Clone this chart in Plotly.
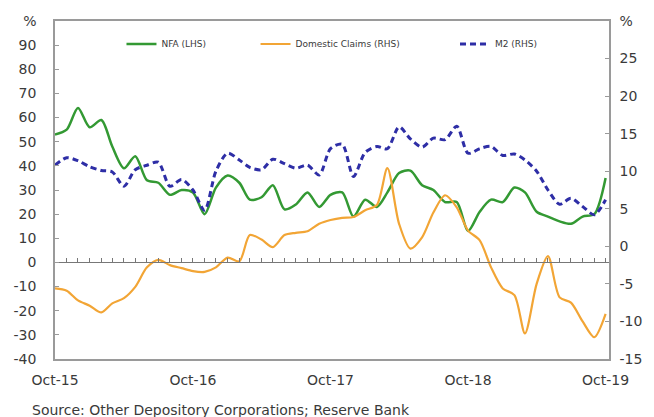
import pandas as pd
import plotly.graph_objects as go

dates = pd.date_range("2015-10-01", "2019-10-01", freq="MS")

nfa = [53, 55, 64, 56, 59, 48, 39, 44, 34, 33, 28, 30, 29,
       20, 31, 36, 33, 26, 27, 32, 22, 24, 29, 23, 28,
       29, 19, 26, 23, 29, 37, 38, 32, 30, 25, 25, 13,
       21, 26, 25, 31, 29, 21, 19, 17, 16, 19, 20, 35]

domestic_claims = [-5.6, -5.9, -7.2, -7.9, -8.8, -7.6, -6.9, -5.4, -2.8, -1.8, -2.5, -2.9, -3.3,
                   -3.4, -2.8, -1.5, -2.0, 1.5, 0.9, -0.1, 1.5, 1.8, 2.0, 3.0, 3.5,
                   3.8, 3.9, 4.8, 5.5, 10.4, 3.0, -0.3, 1.2, 4.5, 6.8, 5.2, 2.1,
                   0.8, -2.8, -5.6, -6.5, -11.6, -5.0, -1.3, -6.8, -7.5, -10.0, -12.1, -9.0]

m2 = [10.8, 11.8, 11.4, 10.6, 10.1, 9.9, 8.0, 10.2, 10.8, 11.2, 8.0, 8.9, 7.5,
      4.8, 10.0, 12.4, 11.5, 10.5, 10.2, 11.6, 11.0, 10.4, 10.8, 9.5, 13.0,
      13.6, 9.3, 12.5, 13.3, 13.0, 15.9, 14.3, 13.2, 14.4, 14.2, 16.0, 12.4,
      13.0, 13.3, 12.1, 12.3, 11.5, 10.0, 7.5, 5.6, 6.4, 5.3, 4.2, 6.2]

left_ticks = [-40, -30, -20, -10, 0, 10, 20, 30, 40, 50, 60, 70, 80, 90, 100]
left_text = [str(v) for v in left_ticks[:-1]] + ["%"]
right_ticks = [-15, -10, -5, 0, 5, 10, 15, 20, 25, 30]
right_text = [str(v) for v in right_ticks[:-1]] + ["%"]
x_ticks = pd.date_range("2015-10-01", "2019-10-01", freq="12MS")

FONT = "DejaVu Sans"
AX = "#9a9a9a"
TXT = "#3a3a3a"
x_range = ["2015-10-01", "2019-10-10"]

fig = go.Figure()
fig.add_trace(go.Scatter(x=dates, y=nfa, name="NFA (LHS)", mode="lines",
                         line=dict(color="#339933", width=2.5, shape="spline", smoothing=0.8),
                         yaxis="y", legend="legend"))
fig.add_trace(go.Scatter(x=dates, y=domestic_claims, name="Domestic Claims (RHS)", mode="lines",
                         line=dict(color="#f2a535", width=2.2, shape="spline", smoothing=0.8),
                         yaxis="y2", legend="legend2"))
fig.add_trace(go.Scatter(x=dates, y=m2, name="M2 (RHS)", mode="lines",
                         line=dict(color="#2e2ea6", width=3, dash="6px,4px", shape="spline", smoothing=0.8),
                         yaxis="y2", legend="legend3"))

leg = dict(orientation="h", yanchor="middle", xanchor="left", y=0.932,
           bgcolor="rgba(0,0,0,0)", font=dict(family=FONT, size=9, color=TXT), itemwidth=30)

fig.update_layout(
    width=654, height=417,
    margin=dict(l=55, r=43, t=21, b=58),
    paper_bgcolor="white", plot_bgcolor="white",
    font=dict(family=FONT, size=14, color=TXT),
    xaxis=dict(range=x_range, type="date", tickvals=x_ticks, tickformat="%b-%y",
               showgrid=False, showline=True, linecolor=AX, linewidth=1.5, mirror=True,
               ticks="", ticklabelstandoff=7, zeroline=False),
    xaxis2=dict(range=x_range, type="date", overlaying="x", anchor="free",
                position=40 / 140, side="bottom", showline=True, linecolor="#777777",
                linewidth=1, ticks="inside", ticklen=4, tickcolor="#777777",
                dtick="M1", tick0="2015-10-01", showticklabels=False, showgrid=False),
    yaxis=dict(range=[-40, 100], tickvals=left_ticks, ticktext=left_text,
               showgrid=False, zeroline=False, showline=True, linecolor=AX, linewidth=1.5,
               ticks="inside", ticklen=4, tickcolor=AX, ticklabelstandoff=14),
    yaxis2=dict(range=[-15, 30], tickvals=right_ticks, ticktext=right_text,
                overlaying="y", side="right", showgrid=False, zeroline=False,
                showline=True, linecolor=AX, linewidth=1.5,
                ticks="inside", ticklen=4, tickcolor=AX, ticklabelstandoff=6),
    legend=dict(leg, x=0.12),
    legend2=dict(leg, x=0.362),
    legend3=dict(leg, x=0.722),
    annotations=[dict(text="Source: Other Depository Corporations; Reserve Bank",
                      xref="paper", yref="paper", x=-0.045, y=-0.151,
                      xanchor="left", yanchor="middle", showarrow=False,
                      font=dict(family=FONT, size=14, color=TXT))],
)

# dummy trace so xaxis2 (zero line ticks) renders
fig.add_trace(go.Scatter(x=[dates[0]], y=[0], xaxis="x2", yaxis="y", mode="lines",
                         showlegend=False, hoverinfo="skip", line=dict(width=0)))

fig.write_html("out.html", config={"displayModeBar": False},
               post_script="document.body.style.margin='0';document.body.style.overflow='hidden';")
